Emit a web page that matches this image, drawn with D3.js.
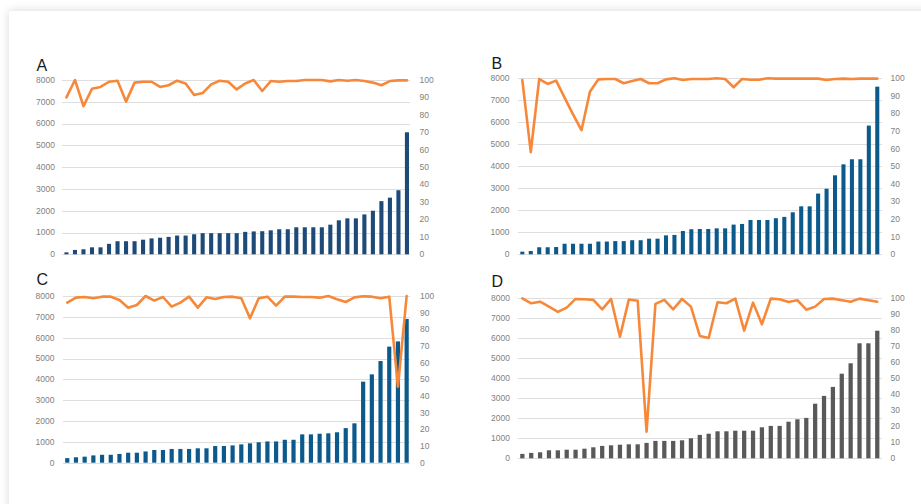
<!DOCTYPE html>
<html>
<head>
<meta charset="utf-8">
<script src="https://cdn.jsdelivr.net/npm/d3@7/dist/d3.min.js"></script>
<style>
  html, body { margin: 0; padding: 0; background: #ffffff; }
  body { width: 921px; height: 504px; overflow: hidden; position: relative; }
  #card {
    position: absolute; left: 9px; top: 11px; width: 980px; height: 560px;
    background: #ffffff; box-shadow: 0 0 9px rgba(0,0,0,0.16);
  }
  svg { position: absolute; left: 0; top: 0; }
  .tick-label { font-family: "Liberation Sans", Arial, sans-serif; font-size: 8.5px; fill: #7f7f7f; }
  .panel-letter { font-family: "Liberation Sans", Arial, sans-serif; font-size: 16px; fill: #1a1a1a; }
</style>
</head>
<body>
<div id="card"></div>
<svg id="chart" width="921" height="504"></svg>
<script>
// Shared tick labels: counts on the left, percentages on the right
const leftTicks = [0, 1000, 2000, 3000, 4000, 5000, 6000, 7000, 8000];
const rightTicks = [0, 10, 20, 30, 40, 50, 60, 70, 80, 90, 100];

// Panel A
const barsA = [90, 200, 230, 320, 320, 480, 600, 600, 600, 670, 730, 760, 800, 860, 860, 920, 970, 970, 970, 970,
               970, 1030, 1050, 1060, 1100, 1150, 1150, 1240, 1240, 1240, 1240, 1360, 1560, 1650, 1650, 1830, 2000, 2440, 2600, 2940, 5600];
const lineA = [90, 100, 85, 95, 96, 99, 99.6, 87.6, 98.5, 99, 99, 96, 97, 99.6, 98, 91.4, 92.5, 97.5, 99.6, 99,
               94.6, 98, 100, 93.7, 99.4, 99, 99.4, 99.4, 100, 100, 100, 99.2, 100, 99.6, 100, 99.4, 98.5, 97, 99.4, 99.8, 99.8];

// Panel B
const barsB = [120, 150, 320, 320, 330, 480, 480, 480, 480, 580, 580, 600, 600, 640, 640, 710, 710, 860, 880, 1060,
               1140, 1150, 1150, 1180, 1180, 1350, 1380, 1560, 1560, 1560, 1640, 1700, 1910, 2180, 2180, 2760, 2980, 3590, 4090, 4320,
               4320, 5850, 7620];
const lineB = [99, 58, 99.6, 96.8, 98.7, 89, 79.5, 70.5, 92.4, 99.4, 99.6, 99.6, 97.2, 98.5, 99.6, 97.2, 97.2, 99.4, 100, 99,
               99.6, 99.6, 99.6, 100, 99.6, 94.9, 99.6, 99.2, 99.2, 100, 99.8, 99.8, 99.8, 99.8, 99.8, 99.8, 99, 99.6, 99.8, 99.6,
               99.8, 99.8, 99.8];

// Panel C
const barsC = [220, 260, 290, 350, 380, 380, 420, 480, 480, 540, 610, 610, 660, 660, 660, 690, 690, 800, 800, 830,
               880, 930, 980, 1020, 1020, 1100, 1100, 1360, 1360, 1390, 1410, 1460, 1660, 1890, 3890, 4240, 4880, 5570, 5820, 6900];
const lineC = [96, 99, 99.4, 98.6, 99.6, 99.6, 97.6, 93, 94.6, 100, 97.2, 99.4, 93.6, 96, 99.6, 93, 99.2, 98.2, 99.4, 99.6,
               98.6, 86.6, 98.6, 99.6, 94.2, 99.6, 99.6, 99.4, 99.4, 99, 100, 98, 96.4, 99.2, 99.8, 99.6, 98.6, 99.6, 45.6, 100];

// Panel D
const barsD = [220, 270, 300, 400, 400, 430, 430, 480, 550, 620, 650, 680, 700, 700, 770, 870, 870, 870, 900, 1000,
               1170, 1230, 1350, 1350, 1380, 1380, 1380, 1550, 1620, 1620, 1830, 1950, 2020, 2730, 3120, 3570, 4230, 4750, 5750, 5750, 6380];
const lineD = [100, 96.9, 97.9, 94.8, 91.5, 94.2, 99.6, 99.4, 99, 93.1, 99.6, 76, 99.2, 98.5, 16.7, 96.5, 99, 93.1, 99.6, 94.8,
               76.5, 75.2, 97.5, 96.9, 99.8, 79.8, 97.3, 83.8, 99.8, 99.4, 97.7, 98.8, 92.9, 94.8, 99.6, 99.8, 98.8, 97.9, 99.8, 98.8, 97.9];

// Layout of each panel on the page
const panels = [
  { letter: "A", bars: barsA, line: lineA, barColor: "#1d4a78",
    letterX: 36.5, letterY: 71, x0: 62.2, x1: 411.2, gridX0: 62, gridX1: 410,
    yTop: 80, yBot: 254.3, leftLabelX: 55, rightLabelX: 419.5 },
  { letter: "B", bars: barsB, line: lineB, barColor: "#0b5a8b",
    letterX: 491.5, letterY: 68.5, x0: 518.1, x1: 881.5, gridX0: 518, gridX1: 882,
    yTop: 78.3, yBot: 254.3, leftLabelX: 509.5, rightLabelX: 890.5 },
  { letter: "C", bars: barsC, line: lineC, barColor: "#0b5a8b",
    letterX: 36.5, letterY: 285, x0: 62.9, x1: 411, gridX0: 63, gridX1: 410,
    yTop: 296, yBot: 462.7, leftLabelX: 54.5, rightLabelX: 420 },
  { letter: "D", bars: barsD, line: lineD, barColor: "#595959",
    letterX: 491.5, letterY: 287, x0: 517.9, x1: 881.7, gridX0: 517.7, gridX1: 881.7,
    yTop: 298.3, yBot: 458.3, leftLabelX: 510, rightLabelX: 890.5 }
];

const lineColor = "#f7883a";
const svg = d3.select("#chart");

panels.forEach(p => {
  const g = svg.append("g");
  const idx = d3.range(p.bars.length);

  const x = d3.scaleBand().domain(idx).range([p.x0, p.x1])
    .paddingInner(0.52).paddingOuter(0.26);
  const yLeft = d3.scaleLinear().domain([0, 8000]).range([p.yBot, p.yTop]);
  const yRight = d3.scaleLinear().domain([0, 100]).range([p.yBot, p.yTop]);

  // horizontal gridlines
  g.append("g").selectAll("line").data(leftTicks).join("line")
    .attr("x1", p.gridX0).attr("x2", p.gridX1)
    .attr("y1", d => Math.round(yLeft(d)) + 0.5).attr("y2", d => Math.round(yLeft(d)) + 0.5)
    .attr("stroke", "#dedede").attr("stroke-width", 1);

  // left axis labels (counts)
  g.append("g").selectAll("text").data(leftTicks).join("text")
    .attr("class", "tick-label")
    .attr("x", p.leftLabelX).attr("y", d => yLeft(d)).attr("dy", "0.34em")
    .attr("text-anchor", "end").text(d => d);

  // right axis labels (percent)
  g.append("g").selectAll("text").data(rightTicks).join("text")
    .attr("class", "tick-label")
    .attr("x", p.rightLabelX).attr("y", d => yRight(d)).attr("dy", "0.34em")
    .attr("text-anchor", "start").text(d => d);

  // bars
  g.append("g").selectAll("rect").data(p.bars).join("rect")
    .attr("x", (d, i) => x(i)).attr("width", x.bandwidth())
    .attr("y", d => yLeft(d)).attr("height", d => yLeft(0) - yLeft(d))
    .attr("fill", p.barColor);

  // percentage line over the bars
  const line = d3.line()
    .x((d, i) => x(i) + x.bandwidth() / 2)
    .y(d => yRight(d));
  g.append("path").datum(p.line)
    .attr("d", line)
    .attr("fill", "none").attr("stroke", lineColor)
    .attr("stroke-width", 2.6).attr("stroke-linejoin", "round").attr("stroke-linecap", "round");

  // panel letter
  g.append("text").attr("class", "panel-letter")
    .attr("x", p.letterX).attr("y", p.letterY).text(p.letter);
});
</script>
</body>
</html>
